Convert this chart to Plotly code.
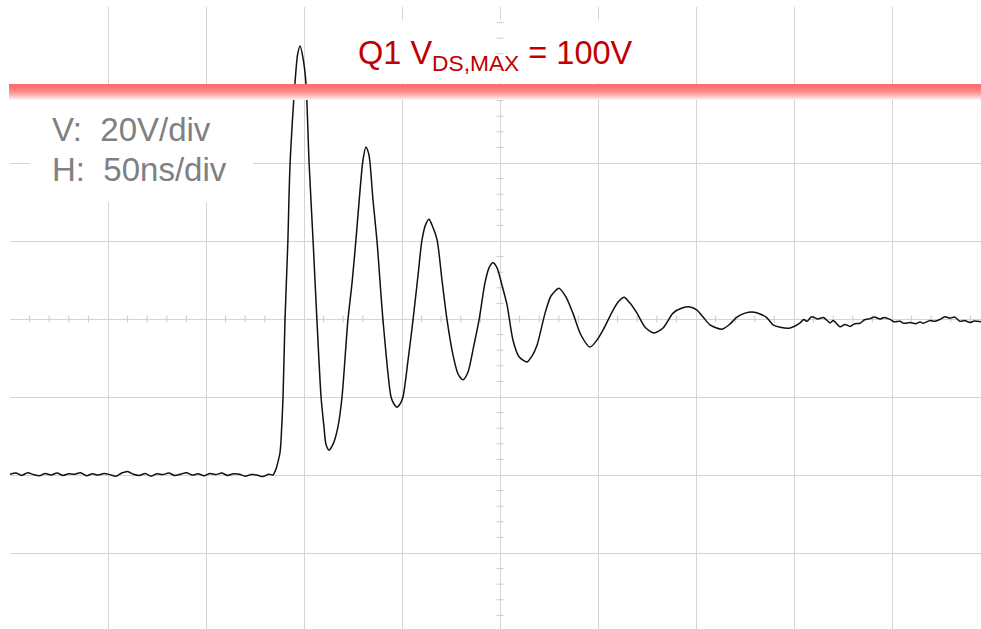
import plotly.graph_objects as go

# ---- data (time in ns, 50 ns/div; voltage in V, 20 V/div) ----
baseline_ns = [0, 3, 6, 9, 12, 15, 18, 21, 24, 27, 30, 33, 36, 39, 42, 45, 48, 51, 54, 57,
               60, 63, 66, 69, 72, 75, 78, 81, 84, 87, 90, 93, 96, 99, 102, 105, 108, 111,
               114, 117, 120, 123, 126, 129, 132]
baseline_v = [0.2, 0.5, -0.1, 0.6, 0.1, -0.2, 0.4, 0.0, 0.5, -0.1,
              0.3, 0.2, 0.6, -0.2, 0.3, 0.0, 0.4, 0.1, -0.3, 0.5,
              0.9, 0.2, -0.1, 0.4, -0.3, 0.3, 0.1, 0.5, -0.1, 0.2,
              0.6, 0.0, 0.3, -0.2, 0.4, 0.1, 0.5, -0.1, 0.3, 0.2,
              -0.3, 0.1, 0.0, -0.4, 0.2]

ring_ns = [134.2, 135.7, 136.7, 137.8, 138.3, 139.3, 140.3, 141.8, 142.3, 142.9,
           144.1, 145.4, 146.7, 148.0, 149.5, 151.0, 152.6, 154.6, 156.6, 158.7,
           160.2, 161.2, 162.8, 164.8, 167.3, 169.4, 172.4, 174.5, 176.5, 178.6,
           180.1, 181.6, 183.0, 183.7, 185.2, 187.2, 190.3, 194.4, 195.9, 197.4,
           199.0, 200.5, 203.1, 205.6, 208.2, 210.2, 212.2, 213.8, 215.3, 217.9,
           220.4, 223.0, 226.0, 228.6, 231.1, 233.7, 236.7, 239.3, 242.3, 244.4,
           246.4, 248.5, 251.0, 253.6, 256.6, 259.7, 263.8, 266.3, 268.9, 273.0,
           276.0, 280.1, 283.7, 287.2, 291.3, 295.9, 299.5, 302.6, 307.7, 310.7,
           313.3, 316.3, 319.9, 324.0, 328.6, 333.2, 338.3, 342.9, 346.9, 350.5,
           353.6, 357.1, 363.3, 367.3, 370.9, 375.0, 378.6, 382.7, 386.2, 389.3,
           392.9, 398.0, 403.1]
ring_v = [0.0, 1.5, 3.3, 5.9, 9.0, 20.0, 39.7, 60.3, 70.5, 80.0,
          91.0, 100.5, 107.7, 110.0, 106.9, 100.5, 80.0, 60.3, 39.7, 20.0,
          12.3, 7.9, 6.4, 7.9, 12.3, 20.0, 39.7, 49.2, 60.3, 73.1,
          80.8, 84.1, 82.4, 80.0, 70.5, 60.3, 39.7, 20.0, 18.2, 17.4,
          18.2, 20.0, 29.5, 39.7, 51.3, 60.3, 64.4, 65.6, 64.1, 60.3,
          50.0, 39.7, 30.8, 25.9, 24.4, 26.4, 33.3, 39.7, 49.2, 53.1,
          54.4, 53.1, 48.7, 43.6, 34.6, 30.3, 29.0, 30.5, 33.3, 41.5,
          45.9, 47.9, 45.6, 41.5, 35.9, 32.8, 34.6, 37.2, 42.3, 44.6,
          45.6, 44.1, 41.5, 37.9, 36.4, 37.7, 41.5, 42.8, 43.1, 42.3,
          40.5, 38.5, 37.4, 38.7, 40.5, 41.5, 41.8, 41.3, 40.3, 38.5,
          37.9, 37.7, 39.0]

tail_ns = [405, 406.6, 409, 412.2, 415, 418.4, 420, 423.5, 426, 428.6, 431, 433.7,
           436, 438.8, 441, 443.9, 446, 449, 451, 454.1, 456, 459.2, 462, 464.3,
           466, 469.4, 472, 474.5, 477, 479.6, 482, 484.7, 487, 489.8, 492, 495.4]
tail_v = [39.9, 39.4, 40.6, 40.0, 40.4, 39.0, 39.6, 38.0, 38.6, 38.1, 38.8, 38.9,
          39.8, 40.1, 40.5, 40.0, 40.4, 39.9, 39.3, 39.4, 38.9, 39.1, 38.8, 39.2,
          38.9, 39.6, 39.4, 39.9, 40.6, 40.2, 40.5, 39.4, 39.6, 39.1, 39.5, 39.3]

vds_max = 100          # V
v_label = "V:\u00a0 20V/div"
h_label = "H:\u00a0 50ns/div"
limit_label = "Q1 V<sub>DS,MAX</sub> = 100V"

time_ns = baseline_ns + ring_ns + tail_ns
volts = baseline_v + ring_v + tail_v

# ---- geometry of the scope screen ----
X_DIV, Y_DIV = 50, 20
x_range = [0, 971 / 98 * X_DIV]
y_top = 120
y_range = [y_top - 622 / 78 * Y_DIV, y_top]
grid_color = "#d4d4d4"

fig = go.Figure()

# minor ticks on the centre axes
cx, cy = 250, 40
tick_x = [t for t in range(10, 500, 10) if t % 50 != 0]
tick_y = [v for v in range(-36, 120, 4) if v % 20 != 0]
fig.add_trace(go.Scatter(x=tick_x, y=[cy] * len(tick_x), mode="markers",
                         marker=dict(symbol="line-ns", size=5,
                                     line=dict(width=1, color="#cccccc")),
                         hoverinfo="skip", showlegend=False))
fig.add_trace(go.Scatter(x=[cx] * len(tick_y), y=tick_y, mode="markers",
                         marker=dict(symbol="line-ew", size=5,
                                     line=dict(width=1, color="#cccccc")),
                         hoverinfo="skip", showlegend=False))

# waveform
fig.add_trace(go.Scatter(x=time_ns, y=volts, mode="lines",
                         line=dict(color="#111111", width=1.5, shape="spline",
                                   smoothing=0.7),
                         hoverinfo="skip", showlegend=False))

shapes = []
# white boxes behind the labels (gridlines hidden there)
shapes.append(dict(type="rect", xref="x", yref="y", x0=10.2, x1=124.0, y0=70.0, y1=96.7,
                   fillcolor="white", line=dict(width=0), layer="between"))
shapes.append(dict(type="rect", xref="x", yref="y", x0=163.3, x1=336.7, y0=100.5, y1=116.7,
                   fillcolor="white", line=dict(width=0), layer="between"))

# red gradient band marking the VDS max limit
px_v = Y_DIV / 78
n_rows = 16
top_v = vds_max + 1.0 * px_v
for i in range(n_rows):
    f = i / (n_rows - 1)
    g = int(110 + (240 - 110) * f ** 1.8)
    shapes.append(dict(type="rect", xref="paper", yref="y", x0=-0.001, x1=1.0,
                       y0=top_v - (i + 1) * px_v, y1=top_v - i * px_v,
                       fillcolor=f"rgb(255,{g},{g})", line=dict(width=0), layer="above"))

fig.update_layout(
    width=981, height=629,
    margin=dict(l=10, r=0, t=7, b=0),
    paper_bgcolor="white", plot_bgcolor="white",
    shapes=shapes,
    xaxis=dict(range=x_range, tickvals=[50, 100, 150, 200, 250, 300, 350, 400, 450],
               showticklabels=False, ticks="", showgrid=True, gridcolor=grid_color,
               gridwidth=1, zeroline=False, showline=False, fixedrange=True),
    yaxis=dict(range=y_range, tickvals=[-20, 0, 20, 40, 60, 80, 100],
               showticklabels=False, ticks="", showgrid=True, gridcolor=grid_color,
               gridwidth=1, zeroline=False, showline=False, fixedrange=True),
    showlegend=False,
)

font_family = "Liberation Sans, Arial, sans-serif"
fig.add_annotation(x=176.3, y=107.6, xref="x", yref="y", text=limit_label,
                   showarrow=False, xanchor="left", yanchor="middle",
                   font=dict(family=font_family, size=32.5, color="#c00000"))
fig.add_annotation(x=20.6, y=88.6, xref="x", yref="y", text=v_label,
                   showarrow=False, xanchor="left", yanchor="middle",
                   font=dict(family=font_family, size=33, color="#808080"))
fig.add_annotation(x=20.6, y=78.3, xref="x", yref="y", text=h_label,
                   showarrow=False, xanchor="left", yanchor="middle",
                   font=dict(family=font_family, size=33, color="#808080"))

fig.write_html("out.html")
